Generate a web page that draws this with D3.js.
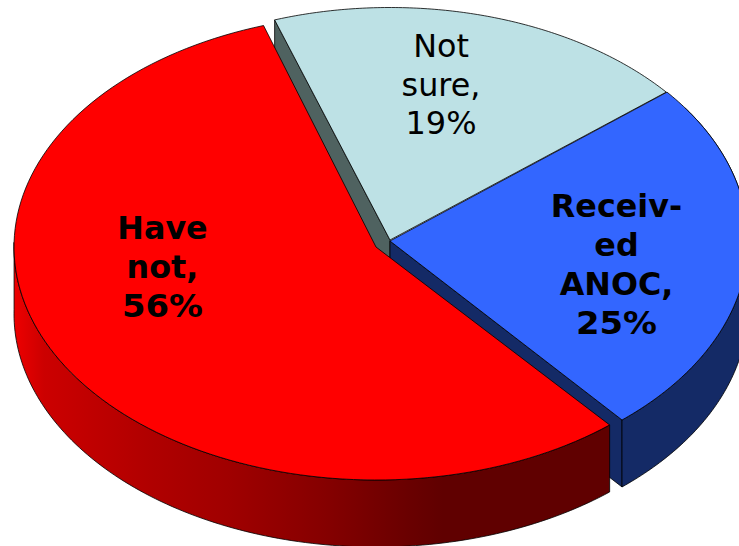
<!DOCTYPE html>
<html><head><meta charset="utf-8">
<script src="https://cdn.jsdelivr.net/npm/d3@7"></script>
<style>html,body{margin:0;padding:0;background:#fff;overflow:hidden}svg{display:block}text{font-family:"DejaVu Sans",Verdana,sans-serif;fill:#000;font-size:31.8px}</style>
</head><body><svg id="c" width="739" height="546"></svg>
<script>
const categories = ["Not sure", "Received ANOC", "Have not"];
const values = [19, 25, 56];
const labelLines = [["Not","sure,","19%"],["Receiv-","ed","ANOC,","25%"],["Have","not,","56%"]];
const faceColors = ["#bde1e5","#3366ff","#ff0000"];
const wallColors = ["#4f6260","#142a66","url(#redWall)"];
const bold = [false,true,true];
// exploded slice geometry (layout); s/e are small angle trims in degrees
const frames = [
 {cx:390,cy:240,a:358,b:232.5,s:-0.6,e:0.3},
 {cx:390,cy:241,a:358,b:235,s:0.5,e:-0.6},
 {cx:376,cy:247,a:362,b:233,s:-0.4,e:0.1}
];
const labelPos = [{x:441,y:57,dy:38.5,pw:71},{x:616.5,y:217,dy:39,pw:81},{x:162.5,y:238.5,dy:39,pw:81}];
const depth = 67;
const svg = d3.select("#c");
const defs = svg.append("defs");
const g = defs.append("linearGradient").attr("id","redWall").attr("gradientUnits","userSpaceOnUse")
  .attr("x1",14).attr("x2",609).attr("y1",0).attr("y2",0);
[[0,"#ee0000"],[0.05,"#cc0000"],[0.23,"#b00000"],[0.36,"#a00000"],[0.53,"#840000"],[0.65,"#6c0000"],[0.72,"#600000"],[1,"#600000"]]
  .forEach(s=>g.append("stop").attr("offset",s[0]).attr("stop-color",s[1]));

const deg = Math.PI/180;
const start = -18.2*deg;
const arcs = d3.pie().sort(null).startAngle(start).endAngle(start+2*Math.PI)(values)
  .map((A,i)=>({...A,startAngle:A.startAngle+frames[i].s*deg,endAngle:A.endAngle+frames[i].e*deg}));
const pt = (f,t,dz=0)=>[f.cx+f.a*Math.sin(t), f.cy-f.b*Math.cos(t)+dz];
const line = d3.line();
const samples = (s,e)=>d3.range(0,121).map(i=>s+(e-s)*i/120);
function draw(d,fill){return svg.append("path").attr("d",d).attr("fill",fill)
  .attr("stroke","#000").attr("stroke-width",0.8).attr("stroke-linejoin","round");}
const radial=(f,t)=>[[f.cx,f.cy],pt(f,t),pt(f,t,depth),[f.cx,f.cy+depth]];
const face=(f,A)=>line([[f.cx,f.cy],...samples(A.startAngle,A.endAngle).map(t=>pt(f,t))])+"Z";
const wall=(f,ts)=>line([...ts.map(t=>pt(f,t)),...ts.slice().reverse().map(t=>pt(f,t,depth))])+"Z";

// light slice: radial wall on the left, then its face
draw(line(radial(frames[0],arcs[0].startAngle))+"Z",wallColors[0]);
draw(face(frames[0],arcs[0]),faceColors[0]);
// blue slice: radial wall, outer wall, face
draw(line(radial(frames[1],arcs[1].endAngle))+"Z",wallColors[1]);
draw(wall(frames[1],samples(Math.PI/2-0.6,arcs[1].endAngle)),wallColors[1]);
draw(face(frames[1],arcs[1]),faceColors[1]);
// red slice: outer wall, face
draw(wall(frames[2],samples(arcs[2].startAngle,3*Math.PI/2+0.02)),wallColors[2]);
draw(face(frames[2],arcs[2]),faceColors[2]);

labelLines.forEach((ls,i)=>{
 ls.forEach((s,j)=>{
  const t=svg.append("text").attr("text-anchor","middle").attr("font-weight",bold[i]?"bold":"normal")
    .attr("x",labelPos[i].x).attr("y",labelPos[i].y+j*labelPos[i].dy).text(s);
  if(s.endsWith("%")) t.attr("textLength",labelPos[i].pw).attr("lengthAdjust","spacingAndGlyphs");
 });
});
</script></body></html>
